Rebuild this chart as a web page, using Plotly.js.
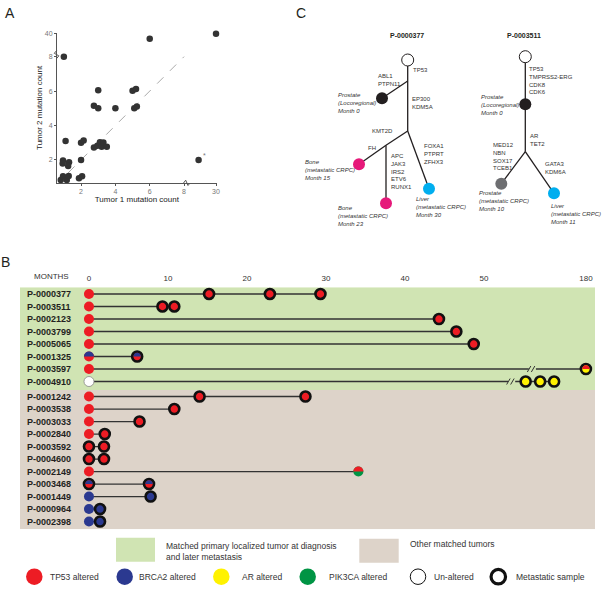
<!DOCTYPE html>
<html><head><meta charset="utf-8">
<script src="https://cdn.plot.ly/plotly-3.0.1.min.js"></script>
<style>html,body{margin:0;padding:0;background:#fff}</style>
</head><body><div id="chart" style="width:602px;height:592px"></div>
<script>
// ---------------- Panel A data ----------------
const tumor1Counts = [6, 30, 1, 3, 3, 2.75, 4, 5, 5.2, 5.1, 5.25, 1.1, 2, 2.15, 2.75, 2.95, 3.1, 3.2, 3.3, 3.5, 0.95, 0.93, 1.3, 1.25, 2, 0.82, 0.95, 1.17, 1.28, 1.88, 2.06, 18];
const tumor2Counts = [33, 40, 8, 6.05, 5, 5.15, 5, 6.02, 6.12, 5, 5.1, 3.1, 3.0, 3.13, 2.72, 2.83, 3.03, 2.76, 3.01, 2.76, 1.96, 1.79, 1.86, 1.65, 2, 0.83, 1.05, 0.83, 1.07, 0.93, 1.05, 2];
const axisATicks = [2, 4, 6, 8];
const axisAXBreakTick = 30;
const axisAYBreakTick = 40;

// ---------------- Panel B data ----------------
const patientIds = ["P-0000377","P-0003511","P-0002123","P-0003799","P-0005065","P-0001325","P-0003597","P-0004910",
  "P-0001242","P-0003538","P-0003033","P-0002840","P-0003592","P-0004600","P-0002149","P-0003468","P-0001449","P-0000964","P-0002398"];
const matchedPrimaryCount = 8;
const sampleMonths = [
  [0,15.2,22.9,29.3],[0,9.3,10.8],[0,44.3],[0,46.5],[0,48.7],[0,6.1],[0,180],[0,72,98,123],
  [0,14.0,27.4],[0,10.8],[0,6.4],[0,2.0],[0,1.9],[0,1.9],[0,34.1],[0,7.6],[0,7.8],[0,1.4],[0,1.4]
];
const sampleAlteration = [
  ["TP53","TP53","TP53","TP53"],["TP53","TP53","TP53"],["TP53","TP53"],["TP53","TP53"],["TP53","TP53"],
  ["BRCA2/TP53","BRCA2/TP53"],["TP53","TP53/AR"],["none","AR","AR","AR"],
  ["TP53","TP53","TP53"],["TP53","TP53"],["TP53","TP53"],["TP53","TP53"],["TP53","TP53"],["TP53","TP53"],
  ["TP53","TP53/PIK3CA"],["BRCA2/TP53","BRCA2/TP53"],["BRCA2","BRCA2"],["BRCA2","BRCA2"],["BRCA2","BRCA2"]
];
const sampleMetastatic = [
  [0,1,1,1],[0,1,1],[0,1],[0,1],[0,1],[0,1],[0,1],[0,1,1,1],
  [0,1,1],[0,1],[0,1],[0,1],[1,1],[1,1],[0,0],[1,1],[0,1],[0,1],[0,1]
];
const axisBreakMonth = [null,null,null,null,null,null,84,53.5,null,null,null,null,null,null,null,null,null,null,null];
const monthTicks = [0,10,20,30,40,50,180];

const alterationColors = {TP53:"#ED1C24", BRCA2:"#2B3990", AR:"#FFF200", PIK3CA:"#009444", none:"#FFFFFF"};
const legendLabels = ["TP53 altered","BRCA2 altered","AR altered","PIK3CA altered","Un-altered","Metastatic sample"];

// ---------------- Panel C (phylogenetic trees) ----------------
const nodeX = [407.7,407.7,382,407.7,386,359,386,429, 525.3,525.3,525.3,501.3,554];
const nodeY = [60,81,98.3,131,145.3,164.3,203.3,188.7, 56.7,104.3,151.7,183.7,193.3];
const nodeFill = ["#FFFFFF",null,"#231F20",null,null,"#E6197A","#E6197A","#00AEEF","#FFFFFF","#231F20",null,"#6D6E71","#00AEEF"];
const treeEdges = [[0,1],[1,2],[1,3],[3,4],[4,5],[4,6],[3,7],[8,9],[9,10],[10,11],[10,12]];
const treeTitles = ["P-0000377","P-0003511"];
const treeLabelText = [
  "TP53","ABL1<br>PTPN11","EP300<br>KDM5A","KMT2D","FH","APC<br>JAK3<br>IRS2<br>ETV6<br>RUNX1","FOXA1<br>PTPRT<br>ZFHX3",
  "TP53<br>TMPRSS2-ERG<br>CDK8<br>CDK6","AR<br>TET2","MED12<br>NBN<br>SOX17<br>TCEB1","GATA3<br>KDM6A"
];
const treeLabelX = [410.7,376,410,395,366,389,421.7, 527.3,528.3,490.7,543.3];
const treeLabelY = [70,80,102.7,131,148,171,153.7, 80,139.8,156.2,167.8];
const treeLabelAnchor = ["left","left","left","right","left","left","left","left","left","left","left"];
const sampleLabelText = [
  "Prostate<br>(Locoregional)<br>Month 0","Bone<br>(metastatic CRPC)<br>Month 15","Bone<br>(metastatic CRPC)<br>Month 23","Liver<br>(metastatic CRPC)<br>Month 30",
  "Prostate<br>(Locoregional)<br>Month 0","Prostate<br>(metastatic CRPC)<br>Month 10","Liver<br>(metastatic CRPC)<br>Month 11"
];
const sampleLabelX = [336,303.3,336,414.3, 479,476.7,548.7];
const sampleLabelY = [103.3,170.3,215.7,207.4, 105,201.3,214.3];

// ---------------- helpers ----------------
const FONT = "Liberation Sans, Arial, sans-serif";
const brkAX = v => v <= 8 ? v : 8 + (v - 8) * 1.86 / 22;
const brkAY = v => v <= 8 ? v : 8 + (v - 8) * 1.33 / 32;
const brkB = m => m <= 54 ? m : 54 + (m - 54) * 8.9 / 126;
const rowY = i => i + (i >= matchedPrimaryCount ? 0.2 : 0);
function topHalf(r){ const k = 0.5523 * r; return `M ${-r} 0 C ${-r} ${k} ${-k} ${r} 0 ${r} C ${k} ${r} ${r} ${k} ${r} 0 Z`; }

const traces = [];
const shapes = [];
const annotations = [];

// ---- Panel A traces ----
traces.push({x:[1.25,8], y:[1.25,8], xaxis:"x", yaxis:"y", mode:"lines", line:{color:"#AAAAAA", width:1, dash:"dash"}, hoverinfo:"skip"});
traces.push({x:tumor1Counts.map(brkAX), y:tumor2Counts.map(brkAY), xaxis:"x", yaxis:"y", mode:"markers",
  marker:{size:6.5, color:"#333333"}, cliponaxis:false, hoverinfo:"skip"});

// ---- Panel B traces ----
const px = [], py = [], pc = [], plw = [], plc = [];
patientIds.forEach((id, i) => {
  const ms = sampleMonths[i].map(brkB);
  const y = rowY(i);
  let lx, ly;
  const b = axisBreakMonth[i];
  if (b !== null) {
    const bd = brkB(b);
    lx = [ms[0], bd - 0.45, null, bd + 0.45, ms[ms.length - 1]];
    ly = [y, y, null, y, y];
    shapes.push({type:"path", xref:"x2", yref:"y2", xsizemode:"pixel", ysizemode:"pixel", xanchor:bd, yanchor:y,
      path:"M -5 -3 L -1.5 3 M -1 -3 L 2.5 3", line:{color:"#333", width:1}, layer:"above"});
  } else {
    lx = [ms[0], ms[ms.length - 1]]; ly = [y, y];
  }
  traces.push({x:lx, y:ly, xaxis:"x2", yaxis:"y2", mode:"lines", line:{color:"#333333", width:1.3}, hoverinfo:"skip", connectgaps:false});
  ms.forEach((d, j) => {
    const alt = sampleAlteration[i][j];
    const parts = alt.split("/");
    const bottom = parts[parts.length - 1];
    const met = sampleMetastatic[i][j] === 1;
    px.push(d); py.push(y); pc.push(alterationColors[bottom]);
    plw.push(met ? 2.6 : (bottom === "none" ? 0.8 : 0));
    plc.push(met ? "#111111" : "#888888");
    if (parts.length === 2) {
      shapes.push({type:"path", xref:"x2", yref:"y2", xsizemode:"pixel", ysizemode:"pixel", xanchor:d, yanchor:y,
        path: topHalf(met ? 3.7 : 5), fillcolor: alterationColors[parts[0]], line:{width:0}, layer:"above"});
    }
  });
  annotations.push({xref:"paper", yref:"y2", x:25/602, y:y, xanchor:"left", yanchor:"middle", showarrow:false,
    text:id, font:{family:FONT, size:9, color:"#231F20", weight:"bold"}});
});
traces.push({x:px, y:py, xaxis:"x2", yaxis:"y2", mode:"markers", cliponaxis:false, hoverinfo:"skip", opacity:1,
  marker:{size:10, opacity:1, color:pc, line:{width:plw, color:plc}}});

// backgrounds for panel B
shapes.push({type:"rect", xref:"paper", yref:"y2", x0:20/602, x1:595/602, y0:-0.536, y1:7.68, fillcolor:"#D0E4B3", line:{width:0}, layer:"below"});
shapes.push({type:"rect", xref:"paper", yref:"y2", x0:20/602, x1:595/602, y0:7.68, y1:18.82, fillcolor:"#DDD3C9", line:{width:0}, layer:"below"});

// ---- Panel C traces (overlay pixel-space axes x3/y3) ----
const ex = [], ey = [];
treeEdges.forEach(([a, b]) => { ex.push(nodeX[a], nodeX[b], null); ey.push(nodeY[a], nodeY[b], null); });
traces.push({x:ex, y:ey, xaxis:"x3", yaxis:"y3", mode:"lines", line:{color:"#231F20", width:1.3}, hoverinfo:"skip"});
const nx = [], ny = [], nc = [], nlw = [];
nodeFill.forEach((c, i) => { if (c) { nx.push(nodeX[i]); ny.push(nodeY[i]); nc.push(c); nlw.push(c === "#FFFFFF" ? 1 : 0); } });
traces.push({x:nx, y:ny, xaxis:"x3", yaxis:"y3", mode:"markers", hoverinfo:"skip", cliponaxis:false, opacity:1,
  marker:{size:12, opacity:1, color:nc, line:{width:nlw, color:"#231F20"}}});

treeTitles.forEach((t, i) => annotations.push({xref:"x3", yref:"y3", x:[406.7,523.7][i], y:35.7, showarrow:false,
  text:t, font:{family:FONT, size:7, color:"#231F20", weight:"bold"}}));
treeLabelText.forEach((t, i) => annotations.push({xref:"x3", yref:"y3", x:treeLabelX[i], y:treeLabelY[i], showarrow:false,
  xanchor:treeLabelAnchor[i], yanchor:"middle", align:treeLabelAnchor[i], text:t, font:{family:FONT, size:6, color:"#333333"}}));
sampleLabelText.forEach((t, i) => annotations.push({xref:"x3", yref:"y3", x:sampleLabelX[i], y:sampleLabelY[i], showarrow:false,
  xanchor:"left", yanchor:"middle", align:"left", text:t, font:{family:FONT, size:6, color:"#333333", style:"italic"}}));

// ---- Legend (bottom) ----
const legX = [34.3,124.7,221.3,307.7,418,498.3];
const legTextX = [48.3,137.3,240,326.7,431.7,514.3];
const legFill = [alterationColors.TP53, alterationColors.BRCA2, alterationColors.AR, alterationColors.PIK3CA, "#FFFFFF", "#FFFFFF"];
const legSize = [16.5,16.5,16.5,16.5,15.5,14.5];
const legLine = [0,0,0,0,1,3.2];
legX.forEach((x, i) => traces.push({x:[x], y:[576.7], xaxis:"x3", yaxis:"y3", mode:"markers", hoverinfo:"skip", cliponaxis:false, opacity:1,
  marker:{symbol:"circle", size:legSize[i], opacity:1, color:legFill[i], line:{width:legLine[i], color:"#111111"}}}));
legendLabels.forEach((t, i) => annotations.push({xref:"x3", yref:"y3", x:legTextX[i], y:576.7, showarrow:false,
  xanchor:"left", yanchor:"middle", text:t, font:{family:FONT, size:8.5, color:"#333333"}}));
shapes.push({type:"rect", xref:"x3", yref:"y3", x0:116, x1:155, y0:537.7, y1:561.7, fillcolor:"#D0E4B3", line:{width:0}});
shapes.push({type:"rect", xref:"x3", yref:"y3", x0:359.3, x1:398.7, y0:538.7, y1:562.7, fillcolor:"#DDD3C9", line:{width:0}});
annotations.push({xref:"x3", yref:"y3", x:164, y:551.3, showarrow:false, xanchor:"left", yanchor:"middle", align:"left",
  text:"Matched primary localized tumor at diagnosis<br>and later metastasis", font:{family:FONT, size:8.5, color:"#333333"}});
annotations.push({xref:"x3", yref:"y3", x:407.7, y:544, showarrow:false, xanchor:"left", yanchor:"middle",
  text:"Other matched tumors", font:{family:FONT, size:8.5, color:"#333333"}});

// panel letters and misc text
[["A",10,13.3],["C",300.7,13],["B",5,261.7]].forEach(([t,x,y]) => annotations.push({xref:"x3", yref:"y3", x:x, y:y,
  showarrow:false, text:t, font:{family:FONT, size:14, color:"#231F20"}}));
annotations.push({xref:"x3", yref:"y3", x:51.3, y:276.7, showarrow:false, text:"MONTHS", font:{family:FONT, size:8, color:"#333333"}});
annotations.push({xref:"x3", yref:"y3", x:204, y:155.5, showarrow:false, text:"*", font:{family:FONT, size:7, color:"#777777"}});

// axis break marks for panel A
shapes.push({type:"path", xref:"x3", yref:"y3", path:"M 56.7 50.5 L 54.3 53.3 L 58.8 55.8 L 56.7 58.5", line:{color:"#555", width:1}});
shapes.push({type:"path", xref:"x3", yref:"y3", path:"M 183.5 183 L 185.7 180.2 L 188 185.5 L 190 183", line:{color:"#555", width:1}});

const layout = {
  width:602, height:592, margin:{l:0, r:0, t:0, b:0}, showlegend:false,
  paper_bgcolor:"#FFFFFF", plot_bgcolor:"rgba(0,0,0,0)", font:{family:FONT},
  xaxis:{domain:[57/602, 216.7/602], range:[0.6, 9.9], anchor:"y",
    tickvals:axisATicks.concat([brkAX(axisAXBreakTick)]), ticktext:axisATicks.concat([axisAXBreakTick]).map(String),
    showline:true, linecolor:"#555", linewidth:1, ticks:"outside", ticklen:2, tickcolor:"#555", showgrid:false, zeroline:false,
    tickfont:{size:7, color:"#777"}, title:{text:"Tumor 1 mutation count", font:{size:8, color:"#222"}, standoff:0}},
  yaxis:{domain:[1-183/592, 1-32.7/592], range:[0.66, 9.39], anchor:"x",
    tickvals:axisATicks.concat([brkAY(axisAYBreakTick)]), ticktext:axisATicks.concat([axisAYBreakTick]).map(String),
    showline:true, linecolor:"#555", linewidth:1, ticks:"outside", ticklen:2, tickcolor:"#555", showgrid:false, zeroline:false,
    tickfont:{size:7, color:"#777"}, title:{text:"Tumor 2 mutation count", font:{size:8, color:"#222"}, standoff:0}},
  xaxis2:{domain:[20/602, 595/602], range:[-8.73, 64.05], anchor:"y2", side:"top",
    tickvals:monthTicks.map(brkB), ticktext:monthTicks.map(String), ticks:"", showline:false, showgrid:false, zeroline:false,
    tickfont:{size:8, color:"#333"}, ticklabelstandoff:4},
  yaxis2:{domain:[1-529.3/592, 1-287.3/592], range:[18.82, -0.536], anchor:"x2", visible:false},
  xaxis3:{domain:[0,1], range:[0,602], anchor:"y3", visible:false},
  yaxis3:{domain:[0,1], range:[592,0], anchor:"x3", visible:false},
  shapes:shapes, annotations:annotations
};
Plotly.newPlot("chart", traces, layout, {staticPlot:true, displayModeBar:false});
</script></body></html>
